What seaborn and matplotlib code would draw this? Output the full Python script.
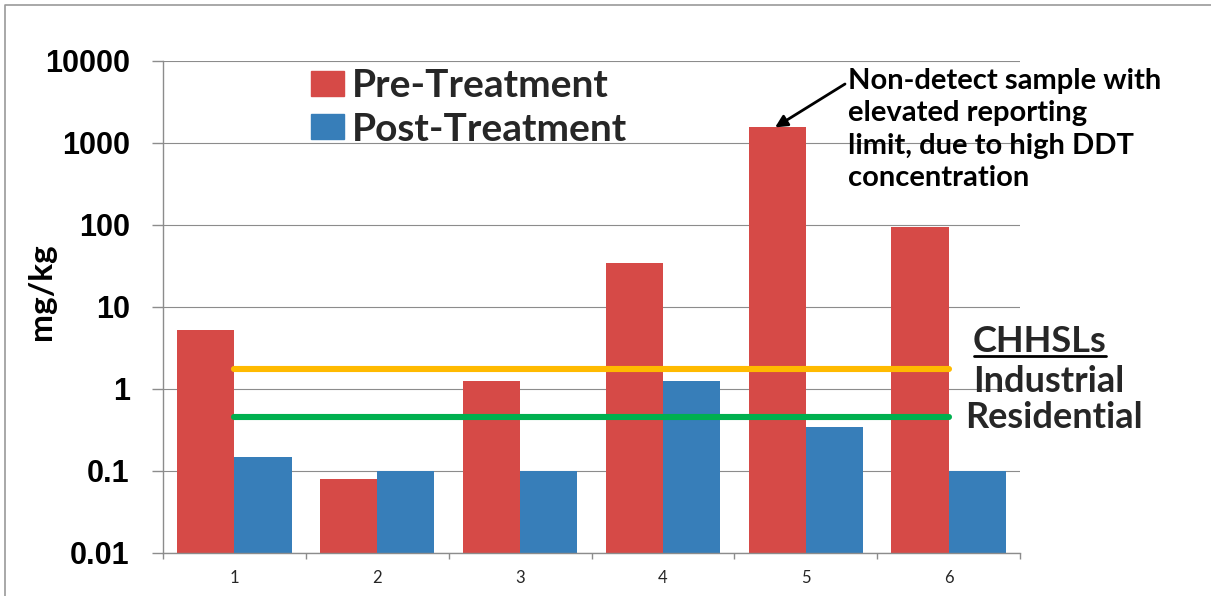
import numpy as np
import pandas as pd
import matplotlib
matplotlib.use("Agg")
import matplotlib.pyplot as plt
import seaborn as sns
from matplotlib.patches import Patch
from matplotlib.lines import Line2D
from matplotlib.ticker import NullLocator, FixedLocator

# ---------------- data ----------------
samples = ["1", "2", "3", "4", "5", "6"]
pre_treatment = [5.3, 0.08, 1.25, 34, 1550, 94]
post_treatment = [0.15, 0.1, 0.1, 1.25, 0.34, 0.1]
series_names = ["Pre-Treatment", "Post-Treatment"]
industrial_chhsl = 1.75
residential_chhsl = 0.46
y_ticks = [0.01, 0.1, 1, 10, 100, 1000, 10000]
y_tick_labels = ["0.01", "0.1", "1", "10", "100", "1000", "10000"]
note_text = "Non-detect sample with\nelevated reporting\nlimit, due to high DDT\nconcentration"

RED = "#D64A47"
BLUE = "#377EB9"
ORANGE = "#FFBA00"
GREEN = "#00B04F"
GRID = "#8C8C8C"

df = pd.DataFrame({
    "Sample": samples * 2,
    "Value": pre_treatment + post_treatment,
    "Series": [series_names[0]] * len(samples) + [series_names[1]] * len(samples),
})

sns.set_theme(style="white")
plt.rcParams["font.family"] = ["Lato", "DejaVu Sans"]

W, H = 1211, 596
fig = plt.figure(figsize=(W / 100, H / 100), dpi=100)
L, R, T, B = 163, 1020, 61, 553
ax = fig.add_axes([L / W, 1 - B / H, (R - L) / W, (B - T) / H])
ax.set_yscale("log", nonpositive="clip")

sns.barplot(data=df, x="Sample", y="Value", hue="Series", order=samples,
            hue_order=series_names, palette=[RED, BLUE], saturation=1,
            width=0.8, errorbar=None, linewidth=0,
            legend=False, ax=ax, zorder=2)
ax.set_yscale("log", nonpositive="clip")

ax.set_ylim(y_ticks[0], y_ticks[-1])
ax.set_xlim(-0.5, len(samples) - 0.5)

# y axis
ax.yaxis.set_major_locator(FixedLocator(y_ticks))
ax.set_yticklabels(y_tick_labels)
ax.yaxis.set_minor_locator(NullLocator())
ax.tick_params(axis="y", which="major", length=8, width=1, color=GRID,
               direction="out", pad=16, left=True)
for lab in ax.get_yticklabels():
    lab.set_fontfamily("Liberation Sans")
    lab.set_fontweight("bold")
    lab.set_fontsize(22)
    lab.set_color("black")

# x axis
ax.set_xticks(range(len(samples)))
ax.set_xticklabels(samples)
ax.xaxis.set_minor_locator(FixedLocator(np.arange(-0.5, len(samples), 1.0)))
ax.tick_params(axis="x", which="major", length=0, pad=12, labelsize=12)
ax.tick_params(axis="x", which="minor", length=4, width=1, color=GRID,
               direction="out", bottom=True)

ax.set_xlabel("")
ax.set_ylabel("mg/kg", fontsize=24, fontweight="bold", color="black")
ax.yaxis.set_label_coords((56 - L) / (R - L), (B - 292) / (B - T))

ax.yaxis.grid(True, color=GRID, linewidth=0.8)
ax.set_axisbelow(True)
for s in ["top", "right"]:
    ax.spines[s].set_visible(False)
for s in ["left", "bottom"]:
    ax.spines[s].set_color(GRID)
    ax.spines[s].set_linewidth(1)

# threshold lines (category 1 centre to category 6 centre)
xs = [0, len(samples) - 1]
ax.plot(xs, [industrial_chhsl] * 2, color=ORANGE, lw=4.4,
        solid_capstyle="round", zorder=4)
ax.plot(xs, [residential_chhsl] * 2, color=GREEN, lw=4.4,
        solid_capstyle="round", zorder=4)

# legend
ax.legend(handles=[Patch(color=RED), Patch(color=BLUE)], labels=series_names,
          loc="upper left",
          bbox_to_anchor=((311 - L) / (R - L), 1 - (68 - T) / (B - T)),
          frameon=False, prop={"family": "Lato", "weight": "bold", "size": 28},
          handlelength=0.85, handleheight=0.62, handletextpad=0.2,
          labelspacing=0.22, borderpad=0, borderaxespad=0)

def ax_frac(px, py):
    return ((px - L) / (R - L), (B - py) / (B - T))

# annotation
ax.text(*ax_frac(848, 68), note_text, transform=ax.transAxes, ha="left",
        va="top", fontsize=21, fontweight="bold", linespacing=1.3,
        color="black", clip_on=False)
ax.annotate("", xy=(3.8 - 0.015, pre_treatment[4]), xycoords="data",
            xytext=ax_frac(845, 84), textcoords="axes fraction",
            arrowprops=dict(arrowstyle="-|>", color="black", lw=2,
                            mutation_scale=18, shrinkA=0, shrinkB=0),
            zorder=5)

# CHHSL labels
lab_kw = dict(transform=ax.transAxes, ha="left", va="center", fontsize=26,
              fontweight="bold", clip_on=False)
t1 = ax.text(*ax_frac(973, 341), "CHHSLs", **lab_kw)
ax.text(*ax_frac(973, 381), "Industrial", **lab_kw)
ax.text(*ax_frac(965, 417), "Residential", **lab_kw)

fig.canvas.draw()
bb = t1.get_window_extent(renderer=fig.canvas.get_renderer())
fig.add_artist(Line2D([bb.x0 + 1, bb.x1 - 1], [bb.y0 + 2, bb.y0 + 2],
                      transform=None, color="black", lw=2))

# figure frame (top and left edges)
fig.add_artist(Line2D([5, 5, W], [0, H - 5, H - 5], transform=None,
                      color="#9A9A9A", lw=1.2))

fig.savefig("out.png", dpi=100)
